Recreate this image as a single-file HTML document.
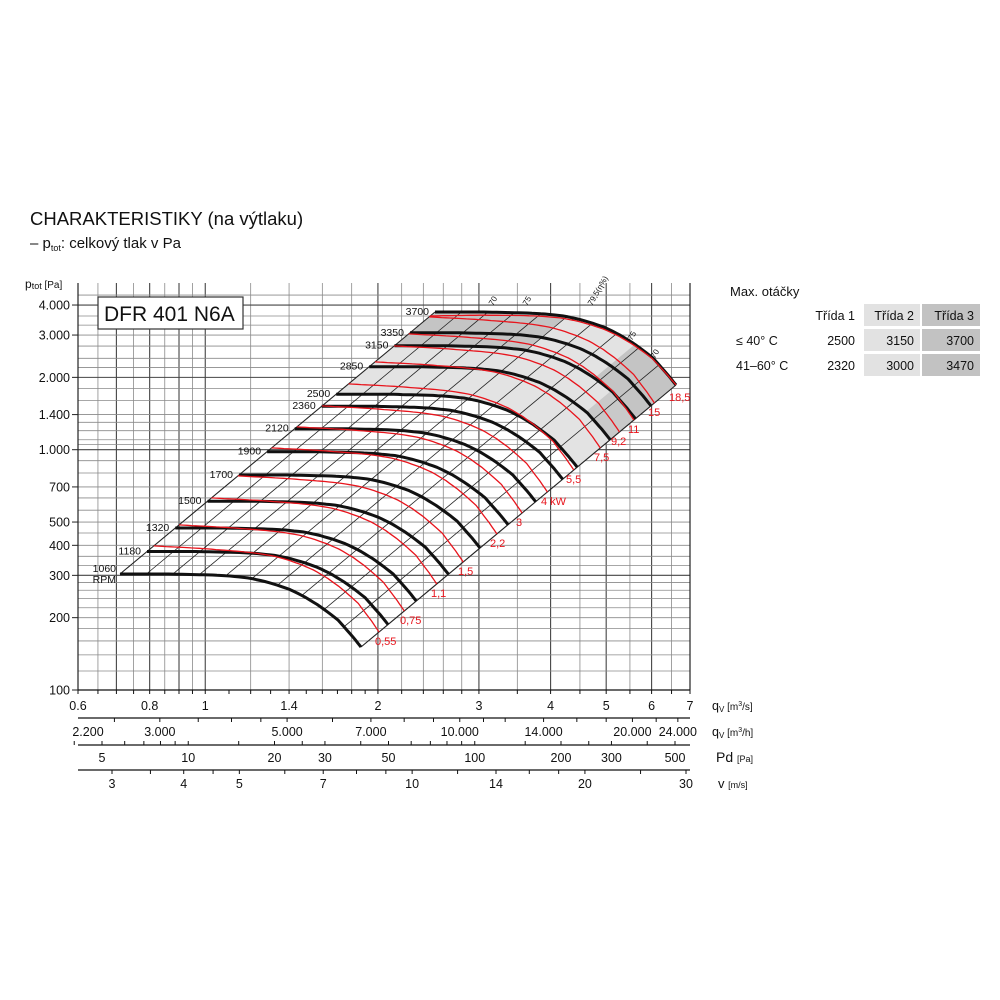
<!DOCTYPE html>
<html><head><meta charset="utf-8"><style>
body{margin:0;background:#fff;width:1000px;height:1000px;overflow:hidden}
svg{position:absolute;left:0;top:0}
text{font-family:"Liberation Sans",sans-serif;fill:#111}
</style></head><body>
<svg id="s" width="1000" height="1000" xmlns="http://www.w3.org/2000/svg">
<text x="30" y="225" font-size="18.5">CHARAKTERISTIKY (na výtlaku)</text>
<text x="30" y="248" font-size="15">– p<tspan font-size="9" dy="3">tot</tspan><tspan dy="-3">: celkový tlak v Pa</tspan></text>
<text x="25" y="288" font-size="12">p<tspan font-size="9" dy="1">tot</tspan><tspan font-size="10" dy="-1"> [Pa]</tspan></text>
<g id="grid"></g><g id="shade"></g><g id="curves"></g><g id="axes"></g>
<rect x="98" y="297" width="145" height="32" fill="#fff" stroke="#333" stroke-width="1.2"/>
<text x="104" y="321" font-size="21">DFR 401 N6A</text>
<text x="730" y="296" font-size="13">Max. otáčky</text>
<rect x="864" y="304" width="56" height="22" fill="#e2e2e2"/>
<rect x="922" y="304" width="58" height="22" fill="#c2c2c2"/>
<rect x="864" y="329" width="56" height="22" fill="#e2e2e2"/>
<rect x="922" y="329" width="58" height="22" fill="#c2c2c2"/>
<rect x="864" y="354" width="56" height="22" fill="#e2e2e2"/>
<rect x="922" y="354" width="58" height="22" fill="#c2c2c2"/>
<g font-size="12.5">
<text x="855" y="320" text-anchor="end">Třída 1</text>
<text x="914" y="320" text-anchor="end">Třída 2</text>
<text x="974" y="320" text-anchor="end">Třída 3</text>
<text x="736" y="345">≤ 40° C</text>
<text x="736" y="370">41–60° C</text>
<text x="855" y="345" text-anchor="end">2500</text>
<text x="914" y="345" text-anchor="end">3150</text>
<text x="974" y="345" text-anchor="end">3700</text>
<text x="855" y="370" text-anchor="end">2320</text>
<text x="914" y="370" text-anchor="end">3000</text>
<text x="974" y="370" text-anchor="end">3470</text>
</g>
</svg>
<script>
const NS="http://www.w3.org/2000/svg";
function el(p,tag,a,txt){const e=document.createElementNS(NS,tag);for(const k in a)e.setAttribute(k,a[k]);if(txt!==undefined)e.textContent=txt;document.getElementById(p).appendChild(e);return e;}
const X=v=>78+573.6*Math.log10(v/0.6), Y=p=>690-240.3*Math.log10(p/100);
const X0=78,X1=690,Y0=283,Y1=690;
[0.65,0.7,0.75,0.8,0.85,0.9,0.95,1,1.2,1.4,1.6,1.8,2,2.2,2.4,2.6,2.8,3,3.5,4,4.5,5,5.5,6,6.5,7].forEach(v=>{
 const x=X(v);const dark=[0.7,0.8,0.9,1,2,3,4,5,6].includes(v);
 el("grid","line",{x1:x,x2:x,y1:Y0,y2:Y1,stroke:dark?"#444":"#8a8a8a","stroke-width":dark?1.1:0.8});});
[120,140,160,180,200,220,240,260,280,300,330,360,400,450,500,560,630,700,800,900,1000,1050,1100,1200,1300,1400,1600,1800,2000,2200,2400,2700,3000,3300,3600,4000,4400].forEach(p=>{
 const y=Y(p);const dark=[300,1000,2000,4000].includes(p);
 el("grid","line",{x1:X0,x2:X1,y1:y,y2:y,stroke:dark?"#444":"#8a8a8a","stroke-width":dark?1.1:0.8});});
el("grid","line",{x1:X0,x2:X0,y1:Y0,y2:Y1,stroke:"#222","stroke-width":1.2});
el("grid","line",{x1:X1,x2:X1,y1:Y0,y2:Y1,stroke:"#222","stroke-width":1.2});
[[4000,"4.000"],[3000,"3.000"],[2000,"2.000"],[1400,"1.400"],[1000,"1.000"],[700,"700"],[500,"500"],[400,"400"],[300,"300"],[200,"200"],[100,"100"]].forEach(([p,t])=>{
 el("axes","text",{x:70,y:Y(p)+4.5,"font-size":12.5,"text-anchor":"end"},t);
 el("axes","line",{x1:72,x2:78,y1:Y(p),y2:Y(p),stroke:"#222"});});
const bp=[[120,574],[170,574],[212,575],[230,576],[249,578],[263,581],[277,585],[291,590],[305,597],[318,605],[329,613],[338,620],[345,628],[353,637],[361,647]];
const cl=[0];for(let i=1;i<bp.length;i++)cl.push(cl[i-1]+Math.hypot(bp[i][0]-bp[i-1][0],bp[i][1]-bp[i-1][1]));
const L=cl[cl.length-1];
function B(u){const s=u*L;let i=1;while(i<cl.length-1&&cl[i]<s)i++;const f=(s-cl[i-1])/(cl[i]-cl[i-1]);return[bp[i-1][0]+f*(bp[i][0]-bp[i-1][0]),bp[i-1][1]+f*(bp[i][1]-bp[i-1][1])];}
const P=(t,u)=>{const b=B(u);return[b[0]+315*t,b[1]-262*t];};
const tn=n=>Math.log(n/1060)/Math.log(3700/1060);
function curve(t,u1,u2,N){const a=[];for(let k=0;k<=N;k++){a.push(P(t,u1+(u2-u1)*k/N));}return a;}
function region(t1,t2,u1,u2,fill){let pts=curve(t1,u1,u2,40).concat(curve(t2,u2,u1,40));
 el("shade","polygon",{points:pts.map(p=>p.join(",")).join(" "),fill:fill});}
region(tn(2500),1,0,1,"#e3e3e3");
region(tn(3150),1,0,0.5,"#c4c4c4");
region(tn(3150),1,0.78,1,"#c4c4c4");
region(tn(2850),tn(3150),0.86,1,"#c9c9c9");
for(let k=0;k<=10;k++){const u=k/10;const a=P(0,u),b=P(1,u);
 el("curves","line",{x1:a[0],y1:a[1],x2:b[0],y2:b[1],stroke:"#222","stroke-width":k==0||k==10?1.1:0.8});}
const reds=[["0,55",375,641],["0,75",400,620],["1,1",431,593],["1,5",458,571],["2,2",490,543],["3",516,522],["4 kW",541,501],["5,5",566,479],["7,5",594,457],["9,2",611,441],["11",628,429],["15",648,412],["18,5",669,397]];
const pl=a=>a.map(p=>p[0].toFixed(1)+","+p[1].toFixed(1)).join(" ");
const blacks=[1060,1180,1320,1500,1700,1900,2120,2360,2500,2850,3150,3350,3700];
blacks.forEach(n=>{const t=tn(n);el("curves","polyline",{points:pl(curve(t,0,1,60)),fill:"none",stroke:"#111","stroke-width":3,"stroke-linejoin":"round"});
 const s=P(t,0);
 if(n==1060){el("curves","text",{x:s[0]-4,y:s[1]-2,"font-size":10.5,"text-anchor":"end"},"1060");el("curves","text",{x:s[0]-4,y:s[1]+9,"font-size":10.5,"text-anchor":"end"},"RPM");}
 else el("curves","text",{x:s[0]-6,y:s[1]+3,"font-size":10.5,"text-anchor":"end"},String(n));});
reds.forEach(([lab,lx,ly],i)=>{
 let te=Math.min(1,(647-(ly-9))/262);let ts=Math.min(1.005,te+0.05);if(i==12){te=1;ts=0.985;}
 const a=[];for(let k=0;k<=60;k++){const u=k/60;const t=ts+(te-ts)*u;a.push(P(t,u));}
 el("curves","polyline",{points:pl(a),fill:"none",stroke:"#e8141c","stroke-width":1.3});
 el("curves","text",{x:lx,y:ly+4,"font-size":11,fill:"#e8141c",style:"fill:#e8141c"},lab);});
[["70",493,306],["75",527,306],["79,5(η%)",592,306],["75",632,341],["70",655,359]].forEach(([t,x,y])=>{
 el("curves","text",{x:x,y:y,"font-size":8,transform:`rotate(-60 ${x} ${y})`},t);});
const ax=(y)=>el("axes","line",{x1:78,x2:690,y1:y,y2:y,stroke:"#111","stroke-width":1.3});
ax(690);ax(718);ax(745);ax(770);
const tk=(x,y,d)=>el("axes","line",{x1:x,x2:x,y1:y,y2:y+d,stroke:"#111","stroke-width":1});
[0.6,0.65,0.7,0.75,0.8,0.85,0.9,0.95,1,1.1,1.2,1.3,1.4,1.5,1.6,1.7,1.8,1.9,2,2.2,2.4,2.6,2.8,3,3.5,4,4.5,5,5.5,6,6.5,7].forEach(v=>tk(X(v),690,4));
[["0.6",0.6],["0.8",0.8],["1",1],["1.4",1.4],["2",2],["3",3],["4",4],["5",5],["6",6],["7",7]].forEach(([t,v])=>el("axes","text",{x:X(v),y:710,"font-size":12.5,"text-anchor":"middle"},t));
const XH=h=>X(h/3600);
[2500,3000,3500,4000,4500,5000,6000,7000,8000,9000,10000,11000,12000,14000,16000,18000,20000,22000,24000].forEach(h=>tk(XH(h),718,4));
[["2.200",2200],["3.000",3000],["5.000",5000],["7.000",7000],["10.000",10000],["14.000",14000],["20.000",20000],["24.000",24000]].forEach(([t,h])=>el("axes","text",{x:t=="2.200"?88:XH(h),y:736,"font-size":12.5,"text-anchor":"middle"},t));
const XP=p=>102+286.5*Math.log10(p/5);
[4,5,6,7,8,9,10,15,20,25,30,40,50,60,70,80,90,100,150,200,250,300,400,500].forEach(p=>tk(XP(p),745,-4));
[5,10,20,30,50,100,200,300,500].forEach(p=>el("axes","text",{x:XP(p),y:762,"font-size":12.5,"text-anchor":"middle"},String(p)));
const XV=v=>112+574*Math.log10(v/3);
[3,3.5,4,4.5,5,6,7,8,9,10,12,14,16,18,20,25,30].forEach(v=>tk(XV(v),770,4));
[3,4,5,7,10,14,20,30].forEach(v=>el("axes","text",{x:XV(v),y:788,"font-size":12.5,"text-anchor":"middle"},String(v)));
el("axes","text",{x:712,y:710,"font-size":12.5},"q").innerHTML='q<tspan font-size="8" dy="2">V</tspan><tspan font-size="10" dy="-2"> [m<tspan font-size="7" dy="-4">3</tspan><tspan dy="4">/s]</tspan></tspan>';
el("axes","text",{x:712,y:736,"font-size":12.5},"q").innerHTML='q<tspan font-size="8" dy="2">V</tspan><tspan font-size="10" dy="-2"> [m<tspan font-size="7" dy="-4">3</tspan><tspan dy="4">/h]</tspan></tspan>';
el("axes","text",{x:716,y:762,"font-size":14},"P").innerHTML='Pd <tspan font-size="9">[Pa]</tspan>';
el("axes","text",{x:718,y:788,"font-size":13},"v").innerHTML='v <tspan font-size="9">[m/s]</tspan>';
</script>
</body></html>
